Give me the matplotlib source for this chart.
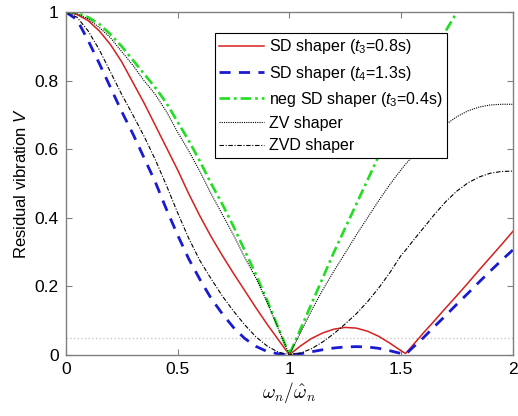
import numpy as np
import matplotlib
matplotlib.use("Agg")
import matplotlib.pyplot as plt

plt.rcParams['font.family'] = ['Liberation Sans', 'DejaVu Sans']
plt.rcParams['mathtext.fontset'] = 'custom'
plt.rcParams['mathtext.rm'] = 'Liberation Sans'
plt.rcParams['mathtext.it'] = 'Liberation Sans:italic'

# frequency ratio w_n / w_n_hat
ratio = [0.0, 0.05, 0.1, 0.15, 0.2, 0.25, 0.3, 0.35, 0.4, 0.45, 0.5, 0.55, 0.6, 0.65, 0.7,
         0.75, 0.8, 0.85, 0.9, 0.95, 1.0, 1.05, 1.1, 1.15, 1.2, 1.25, 1.3, 1.35, 1.4, 1.45,
         1.5, 1.52, 1.55, 1.6, 1.65, 1.7, 1.75, 1.8, 1.85, 1.9, 1.95, 2.0]

sd_t3 = [1.0, 0.993, 0.975, 0.945, 0.905, 0.855, 0.795, 0.735, 0.67, 0.605, 0.54, 0.47,
         0.405, 0.345, 0.29, 0.238, 0.188, 0.138, 0.09, 0.045, 0.0, 0.026, 0.048, 0.064,
         0.075, 0.08, 0.078, 0.069, 0.054, 0.034, 0.012, 0.004, 0.026, 0.064, 0.1, 0.137,
         0.173, 0.21, 0.248, 0.285, 0.322, 0.36]

sd_t4 = [1.0, 0.978, 0.917, 0.85, 0.78, 0.71, 0.645, 0.575, 0.505, 0.425, 0.35, 0.28,
         0.22, 0.165, 0.12, 0.08, 0.048, 0.025, 0.01, 0.003, 0.0, 0.003, 0.009, 0.015,
         0.02, 0.023, 0.024, 0.023, 0.019, 0.012, 0.004, 0.001, 0.02, 0.05, 0.083, 0.115,
         0.148, 0.18, 0.213, 0.245, 0.276, 0.306]

neg_sd = [1.0, 0.997, 0.985, 0.965, 0.935, 0.9, 0.86, 0.82, 0.78, 0.735, 0.68, 0.625,
          0.565, 0.5, 0.44, 0.375, 0.305, 0.235, 0.16, 0.08, 0.0, 0.075, 0.15, 0.225,
          0.3, 0.37, 0.44, 0.51, 0.58, 0.645, 0.71, 0.735, 0.77, 0.83, 0.89, 0.945,
          1.0, 1.05, None, None, None, None]

zv = [1.0, 0.995, 0.98, 0.955, 0.925, 0.885, 0.845, 0.8, 0.76, 0.71, 0.65, 0.595,
      0.535, 0.47, 0.41, 0.35, 0.285, 0.225, 0.155, 0.078, 0.0, 0.065, 0.13, 0.19,
      0.245, 0.297, 0.35, 0.4, 0.45, 0.497, 0.54, 0.556, 0.578, 0.613, 0.645, 0.672,
      0.695, 0.712, 0.723, 0.729, 0.731, 0.731]

zvd = [1.0, 0.985, 0.945, 0.89, 0.825, 0.76, 0.7, 0.638, 0.57, 0.495, 0.415, 0.34,
       0.275, 0.222, 0.172, 0.128, 0.088, 0.053, 0.026, 0.008, 0.0, 0.005, 0.018, 0.038,
       0.062, 0.09, 0.12, 0.155, 0.195, 0.24, 0.29, 0.305, 0.33, 0.37, 0.41, 0.447,
       0.478, 0.502, 0.519, 0.53, 0.535, 0.536]

threshold = 0.05

x = np.array(ratio)
to_arr = lambda v: np.array([np.nan if a is None else a for a in v], dtype=float)

fig = plt.figure(figsize=(5.18, 4.16), dpi=100)
ax = fig.add_axes([0.127, 0.147, 0.863, 0.824])

ax.axhline(threshold, color='#c8c8c8', linestyle=':', linewidth=1.0)
ax.plot(x, to_arr(sd_t3), color='#d42020', linewidth=1.1, label='SD shaper ($t_3$=0.8s)')
ax.plot(x, to_arr(sd_t4), color='#1a1ad0', linewidth=2.0, linestyle=(0, (4, 3)),
        label='SD shaper ($t_4$=1.3s)')
ax.plot(x, to_arr(neg_sd), color='#22dd22', linewidth=1.9, linestyle=(0, (4, 1.5, 1, 1.5)),
        label='neg SD shaper ($t_3$=0.4s)')
ax.plot(x, to_arr(zv), color='black', linewidth=0.8, linestyle=(0, (1, 1)), label='ZV shaper')
ax.plot(x, to_arr(zvd), color='black', linewidth=0.8, linestyle=(0, (4, 1.5, 1, 1.5)),
        label='ZVD shaper')

ax.set_xlim(0, 2)
ax.set_ylim(0, 1)
ax.set_xticks([0, 0.5, 1, 1.5, 2])
ax.set_xticklabels(['0', '0.5', '1', '1.5', '2'])
ax.set_yticks([0, 0.2, 0.4, 0.6, 0.8, 1])
ax.set_yticklabels(['0', '0.2', '0.4', '0.6', '0.8', '1'])
ax.tick_params(direction='in', top=True, right=True, labelsize=12.5, color='#808080',
               length=4, pad=5)
for s in ax.spines.values():
    s.set_color('#808080')
    s.set_linewidth(1.0)

ax.set_xlabel(r'$\omega_n/\hat{\omega}_n$', fontsize=14, math_fontfamily='cm', labelpad=2)
ax.set_ylabel('Residual vibration $V$', fontsize=12, labelpad=4)

leg = ax.legend(loc='upper left', bbox_to_anchor=(0.333, 0.94), fontsize=11.5,
                fancybox=False, edgecolor='black', framealpha=1, handlelength=2.8,
                handletextpad=0.3, borderpad=0.3, labelspacing=0.45, borderaxespad=0)
leg.get_frame().set_linewidth(0.8)

fig.savefig('out.png', dpi=100)
